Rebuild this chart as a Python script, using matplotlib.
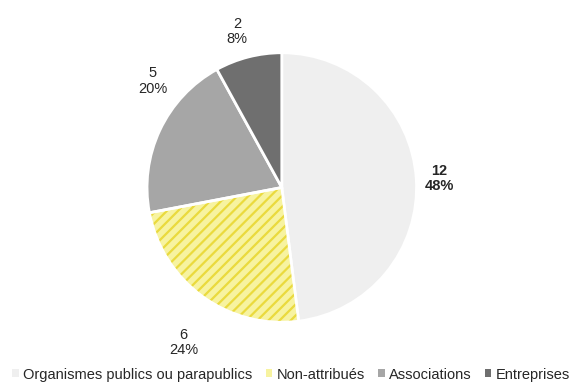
import matplotlib
matplotlib.use("Agg")
from matplotlib import pyplot as plt
from matplotlib.patches import Wedge
from matplotlib.patches import Patch

plt.rcParams['font.family'] = ['Liberation Sans', 'DejaVu Sans']
plt.rcParams['hatch.linewidth'] = 1.6

# répartition des porteurs
categories = ["Organismes publics ou parapublics", "Non-attribués", "Associations", "Entreprises"]
valeurs = [12, 6, 5, 2]
couleurs = ["#efefef", "#f7f3a0", "#a6a6a6", "#6f6f6f"]

# position des étiquettes (repère du camembert)
pos_labels = [(1.17, 0.07), (-0.73, -1.15), (-0.96, 0.79), (-0.33, 1.16)]

fig = plt.figure(figsize=(5.71, 3.85), dpi=100)
ax = fig.add_axes([0.252, 0.156, 0.483, 0.714])

wedges, _ = ax.pie(valeurs, colors=couleurs, startangle=90, counterclock=False,
                   wedgeprops=dict(edgecolor="white", linewidth=2))
ax.set_aspect("equal")

# hachures jaunes sur les non-attribués
w = wedges[1]
w.set_hatch("///")
w.set_edgecolor("#eada3e")
w.set_linewidth(0)
ax.add_patch(Wedge(w.center, w.r, w.theta1, w.theta2, fill=False,
                   edgecolor="white", linewidth=2))

total = sum(valeurs)
for i, v in enumerate(valeurs):
    pct = round(100 * v / total)
    ax.text(pos_labels[i][0], pos_labels[i][1], "%d\n%d%%" % (v, pct),
            ha="center", va="center", fontsize=10.5, color="#262626",
            fontweight="bold" if i == 0 else "normal", linespacing=1.1)

ax.set_xlim(-1.02, 1.02)
ax.set_ylim(-1.02, 1.02)

handles = [Patch(facecolor=c, edgecolor="none") for c in couleurs]
fig.legend(handles, categories, loc="center", bbox_to_anchor=(0.51, 0.027), ncol=4,
           frameon=False, fontsize=10.5, handlelength=0.45, handleheight=0.45,
           handletextpad=0.3, columnspacing=0.9, labelcolor="#262626")

fig.savefig("out.png", dpi=100)
